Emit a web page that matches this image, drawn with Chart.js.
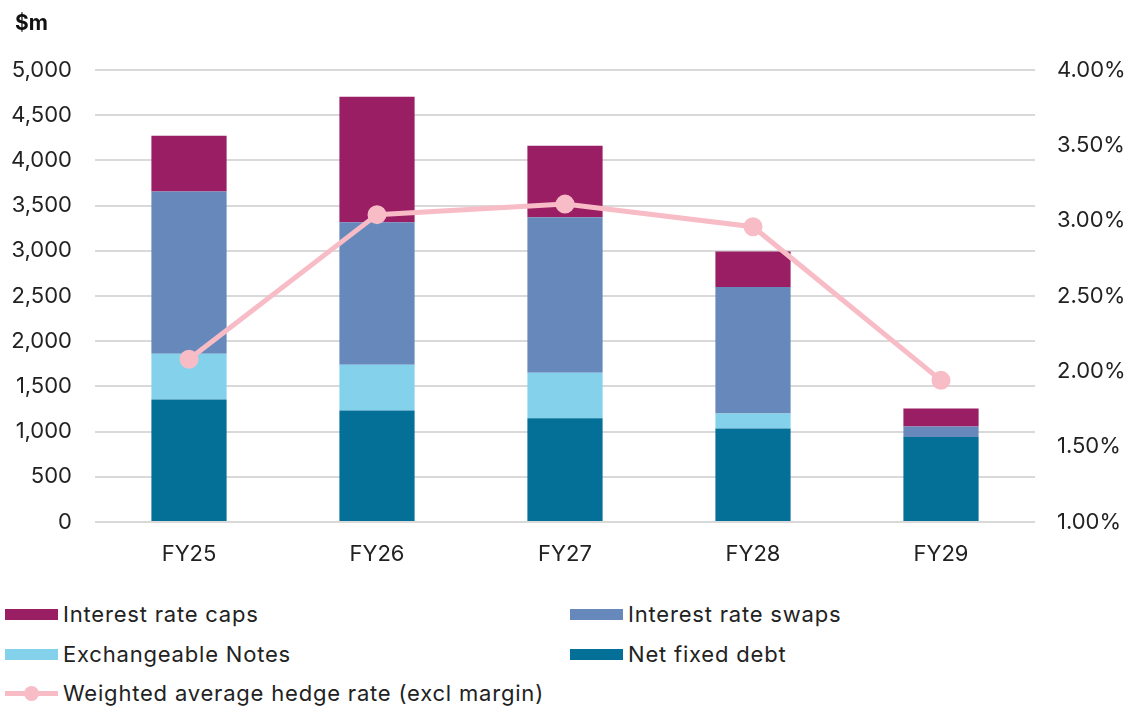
<!DOCTYPE html>
<html>
<head>
<meta charset="utf-8">
<script src="https://cdn.jsdelivr.net/npm/chart.js@4/dist/chart.umd.min.js"></script>
<style>
  body { margin: 0; background: #fff; font-family: Inter, sans-serif; }
  #wrap { position: relative; width: 1129px; height: 707px; overflow: hidden; }
  #unit { position: absolute; left: 15px; top: 10px; font-size: 21px; font-weight: bold; color: #111; }
  #chartBox { position: absolute; left: 0; top: 0; width: 1129px; height: 580px; }
  .leg { position: absolute; font-size: 22px; letter-spacing: 0.8px; color: #222; display: flex; align-items: center; }
  .leg .box { width: 53px; height: 11px; margin-right: 5px; }
  .leg .ln { width: 53px; height: 5px; margin-right: 5px; position: relative; }
  .leg .ln::after { content: ''; position: absolute; left: 19px; top: -5px; width: 15px; height: 15px; border-radius: 50%; background: inherit; }
</style>
</head>
<body>
<div id="wrap">
  <div id="chartBox"><canvas id="graficaHedge"></canvas></div>
  <div id="unit">$m</div>
  <div id="legend"></div>
</div>
<script>
var years = ["FY25", "FY26", "FY27", "FY28", "FY29"];
var netFixedDebt = [1355, 1233, 1149, 1035, 940];
var exchangeableNotes = [506, 507, 503, 165, 0];
var interestRateSwaps = [1795, 1575, 1718, 1399, 117];
var interestRateCaps = [617, 1388, 793, 393, 199];
var hedgeRate = [2.08, 3.04, 3.11, 2.96, 1.94];
var leftTicks = [0, 500, 1000, 1500, 2000, 2500, 3000, 3500, 4000, 4500, 5000];
var rightTicks = [1.0, 1.5, 2.0, 2.5, 3.0, 3.5, 4.0];

var colCaps = '#991e63';
var colSwaps = '#6788ba';
var colNotes = '#83d1ea';
var colNet = '#046f97';
var colLine = '#f8bcc7';

var fuente = { family: 'Inter', size: 22 };

var ctx = document.getElementById("graficaHedge").getContext('2d');
var myChart = new Chart(ctx, {
    type: 'bar',
    data: {
        labels: years,
        datasets: [{
            type: 'line',
            label: 'Weighted average hedge rate (excl margin)',
            data: hedgeRate,
            yAxisID: 'y1',
            borderColor: colLine,
            backgroundColor: colLine,
            borderWidth: 5,
            pointRadius: 7,
            pointHoverRadius: 7,
            order: 0
        }, {
            label: 'Net fixed debt',
            data: netFixedDebt,
            backgroundColor: colNet,
            order: 1
        }, {
            label: 'Exchangeable Notes',
            data: exchangeableNotes,
            backgroundColor: colNotes,
            order: 1
        }, {
            label: 'Interest rate swaps',
            data: interestRateSwaps,
            backgroundColor: colSwaps,
            order: 1
        }, {
            label: 'Interest rate caps',
            data: interestRateCaps,
            backgroundColor: colCaps,
            order: 1
        }]
    },
    options: {
        responsive: true,
        maintainAspectRatio: false,
        animation: false,
        layout: { padding: { top: 70, left: 0, right: 0, bottom: 0 } },
        datasets: { bar: { barPercentage: 0.8, categoryPercentage: 0.5 } },
        plugins: { legend: { display: false }, tooltip: { enabled: false } },
        scales: {
            x: {
                stacked: true,
                grid: { display: false },
                border: { display: false },
                ticks: { color: '#222', font: fuente, padding: 11 },
                afterFit: function (s) { s.height = 58; }
            },
            y: {
                stacked: true,
                position: 'left',
                min: 0,
                max: 5000,
                afterBuildTicks: function (s) { s.ticks = leftTicks.map(function (v) { return { value: v }; }); },
                grid: { color: '#d9d9d9', lineWidth: 2, drawTicks: false },
                border: { display: false },
                ticks: {
                    color: '#222',
                    font: fuente,
                    padding: 23,
                    callback: function (v) { return v.toLocaleString('en-US'); }
                },
                afterFit: function (s) { s.width = 95; }
            },
            y1: {
                position: 'right',
                min: 1,
                max: 4,
                afterBuildTicks: function (s) { s.ticks = rightTicks.map(function (v) { return { value: v }; }); },
                grid: { display: false, drawTicks: false },
                border: { display: false },
                ticks: {
                    color: '#222',
                    font: fuente,
                    padding: 22,
                    callback: function (v) { return v.toFixed(2) + '%'; }
                },
                afterFit: function (s) { s.width = 94; }
            }
        }
    }
});

// leyenda a mano, dos columnas
var legendItems = [
    { text: 'Interest rate caps', color: colCaps, x: 5, y: 601 },
    { text: 'Interest rate swaps', color: colSwaps, x: 570, y: 601 },
    { text: 'Exchangeable Notes', color: colNotes, x: 5, y: 641 },
    { text: 'Net fixed debt', color: colNet, x: 570, y: 641 },
    { text: 'Weighted average hedge rate (excl margin)', color: colLine, x: 5, y: 680, line: true }
];
var legendDiv = document.getElementById('legend');
legendItems.forEach(function (it) {
    var d = document.createElement('div');
    d.className = 'leg';
    d.style.left = it.x + 'px';
    d.style.top = it.y + 'px';
    var b = document.createElement('span');
    b.className = it.line ? 'ln' : 'box';
    b.style.background = it.color;
    d.appendChild(b);
    var t = document.createElement('span');
    t.textContent = it.text;
    d.appendChild(t);
    legendDiv.appendChild(d);
});
</script>
</body>
</html>
